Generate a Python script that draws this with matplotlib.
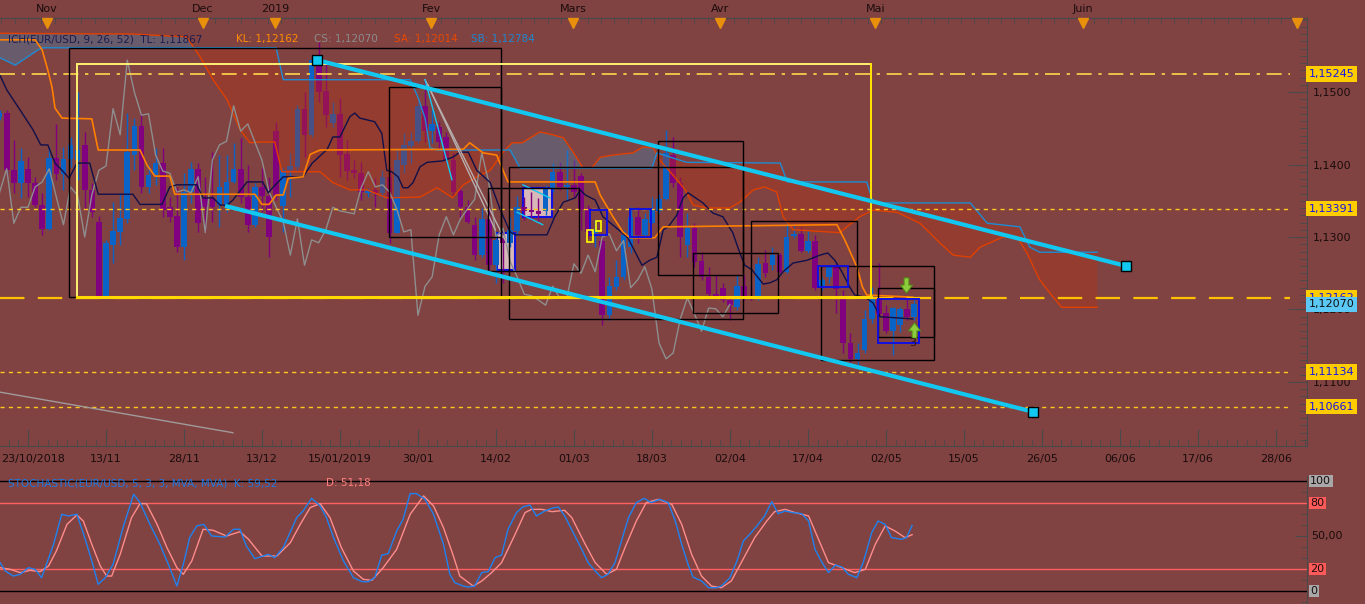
import matplotlib
matplotlib.use("Agg")
import matplotlib.pyplot as plt
import matplotlib.transforms as mtransforms
from matplotlib.patches import Rectangle
from matplotlib.path import Path
from matplotlib.ticker import MultipleLocator, FuncFormatter
import numpy as np

# ---------------- data ----------------
first_bar = -4   # bar index 0 = 23/10/2018
opens = [1.1466,1.1471,1.1392,1.1375,1.1394,1.1375,1.1344,1.1311,1.1409,1.1387,
         1.1408,1.1406,1.1427,1.1365,1.1321,1.1217,1.1289,1.1307,1.1325,1.1413,
         1.1453,1.1369,1.1385,1.1402,1.1341,1.1329,1.1286,1.1362,1.1394,1.1354,
         1.1354,1.1344,1.1344,1.1376,1.1394,1.1355,1.1317,1.1369,1.1357,1.1446,
         1.1343,1.1392,1.1397,1.1477,1.1441,1.1541,1.1501,1.1457,1.1470,1.1414,
         1.1392,1.1388,1.1361,1.1365,1.1361,1.1383,1.1306,1.1399,1.1426,1.1432,
         1.1481,1.1446,1.1452,1.1438,1.1406,1.1363,1.1341,1.1317,1.1275,1.1325,
         1.1261,1.1299,1.1292,1.1308,1.1341,1.1337,1.1336,1.1336,1.1368,1.1390,
         1.1369,1.1372,1.1384,1.1340,1.1306,1.1295,1.1192,1.1231,1.1245,1.1286,
         1.1328,1.1303,1.1319,1.1336,1.1352,1.1413,1.1375,1.1289,1.1312,1.1267,
         1.1245,1.1221,1.1230,1.1213,1.1203,1.1232,1.1217,1.1216,1.1264,1.1261,
         1.1275,1.1252,1.1301,1.1304,1.1281,1.1295,1.1230,1.1245,1.1259,1.1217,
         1.1154,1.1132,1.1144,1.1187,1.1216,1.1195,1.1170,1.1179,1.1201,1.1190]
highs = [1.1475,1.1475,1.1434,1.1423,1.1410,1.1383,1.1361,1.1424,1.1456,1.1424,
         1.1438,1.1500,1.1445,1.1375,1.1329,1.1296,1.1348,1.1361,1.1471,1.1464,
         1.1471,1.1399,1.1423,1.1423,1.1355,1.1369,1.1388,1.1403,1.1402,1.1383,
         1.1417,1.1413,1.1413,1.1430,1.1437,1.1399,1.1375,1.1395,1.1383,1.1459,
         1.1397,1.1416,1.1482,1.1500,1.1547,1.1569,1.1540,1.1486,1.1492,1.1434,
         1.1406,1.1403,1.1368,1.1381,1.1392,1.1397,1.1423,1.1443,1.1445,1.1486,
         1.1517,1.1475,1.1459,1.1445,1.1416,1.1369,1.1351,1.1328,1.1340,1.1340,
         1.1306,1.1310,1.1328,1.1357,1.1355,1.1362,1.1354,1.1372,1.1402,1.1403,
         1.1420,1.1406,1.1388,1.1344,1.1323,1.1306,1.1245,1.1268,1.1310,1.1341,
         1.1341,1.1333,1.1355,1.1359,1.1448,1.1438,1.1383,1.1333,1.1319,1.1279,
         1.1259,1.1248,1.1237,1.1217,1.1248,1.1248,1.1233,1.1272,1.1282,1.1286,
         1.1278,1.1319,1.1317,1.1314,1.1310,1.1303,1.1245,1.1261,1.1264,1.1227,
         1.1168,1.1154,1.1199,1.1231,1.1264,1.1206,1.1203,1.1203,1.1217,1.1213]
lows  = [1.1461,1.1383,1.1361,1.1354,1.1355,1.1341,1.1303,1.1310,1.1379,1.1365,
         1.1397,1.1379,1.1337,1.1328,1.1217,1.1217,1.1264,1.1289,1.1319,1.1392,
         1.1361,1.1361,1.1372,1.1328,1.1321,1.1279,1.1268,1.1347,1.1307,1.1307,
         1.1321,1.1314,1.1334,1.1375,1.1347,1.1307,1.1314,1.1334,1.1272,1.1351,
         1.1307,1.1355,1.1392,1.1410,1.1438,1.1486,1.1452,1.1452,1.1383,1.1379,
         1.1381,1.1351,1.1355,1.1341,1.1355,1.1292,1.1306,1.1388,1.1402,1.1430,
         1.1431,1.1430,1.1423,1.1402,1.1355,1.1328,1.1319,1.1268,1.1272,1.1255,
         1.1237,1.1237,1.1286,1.1303,1.1323,1.1323,1.1321,1.1330,1.1362,1.1365,
         1.1351,1.1355,1.1310,1.1299,1.1286,1.1179,1.1185,1.1227,1.1241,1.1278,
         1.1292,1.1300,1.1319,1.1333,1.1351,1.1369,1.1272,1.1272,1.1259,1.1241,
         1.1216,1.1217,1.1210,1.1185,1.1199,1.1213,1.1213,1.1213,1.1245,1.1255,
         1.1250,1.1250,1.1299,1.1279,1.1278,1.1227,1.1227,1.1237,1.1195,1.1140,
         1.1128,1.1123,1.1140,1.1181,1.1192,1.1168,1.1137,1.1169,1.1185,1.1185]
closes = [1.1471,1.1392,1.1375,1.1405,1.1375,1.1344,1.1311,1.1409,1.1387,1.1408,
          1.1427,1.1420,1.1365,1.1334,1.1217,1.1292,1.1308,1.1326,1.1417,1.1453,
          1.1369,1.1385,1.1402,1.1337,1.1328,1.1286,1.1362,1.1394,1.1319,1.1341,
          1.1341,1.1369,1.1376,1.1394,1.1355,1.1317,1.1369,1.1357,1.1300,1.1358,
          1.1392,1.1398,1.1477,1.1441,1.1544,1.1500,1.1468,1.1470,1.1413,1.1391,
          1.1388,1.1362,1.1365,1.1361,1.1383,1.1306,1.1406,1.1427,1.1432,1.1481,
          1.1446,1.1456,1.1431,1.1406,1.1362,1.1341,1.1321,1.1275,1.1325,1.1261,
          1.1296,1.1292,1.1310,1.1341,1.1336,1.1334,1.1332,1.1368,1.1390,1.1369,
          1.1372,1.1362,1.1339,1.1307,1.1310,1.1192,1.1232,1.1245,1.1303,1.1328,
          1.1303,1.1325,1.1339,1.1352,1.1416,1.1375,1.1300,1.1312,1.1266,1.1245,
          1.1221,1.1219,1.1213,1.1206,1.1232,1.1216,1.1216,1.1263,1.1250,1.1275,
          1.1252,1.1300,1.1304,1.1281,1.1295,1.1230,1.1241,1.1259,1.1228,1.1154,
          1.1132,1.1140,1.1187,1.1216,1.1194,1.1170,1.1202,1.1201,1.1190,1.1207]

# Ichimoku lines (bar position, price)
tenkan_x = [-3.95,-3.0,-1.1,0.7,1.8,2.8,3.8,4.8,5.8,6.9,8.7,9.9,14.8,15.8,18.9,20.0,21.0,23.8,
            24.7,26.1,27.1,28.1,28.9,30.9,33.1,33.9,34.6,36.0,38.8,40.1,42.2,43.0,44.0,45.4,
            46.1,46.8,48.9,49.9,50.6,51.3,52.2,52.9,53.6,54.3,55.3,56.3,58.5,59.9,60.9,62.1,
            63.3,65.2,66.6,68.0,68.7,73.2,74.3,75.5,77.2,77.9,78.6,80.0,81.1,82.8,84.6,86.6,
            87.7,88.7,89.6,90.3,91.5,92.4,93.1,95.2,96.6,98.0,99.4,100.4,101.1,102.1,103.7,
            104.7,105.6,106.5,107.9,109.9,111.7,112.8,113.8,114.8,115.9,116.6,118.1,119.2,
            120.2,124.8]
tenkan_p = [1.1523,1.1503,1.1475,1.1448,1.1427,1.1427,1.1402,1.1392,1.1381,1.1402,1.1402,1.1359,
            1.1359,1.1345,1.1345,1.1369,1.1372,1.1372,1.1354,1.1354,1.1344,1.1344,1.1351,1.1376,
            1.1376,1.1361,1.1369,1.1383,1.1383,1.1402,1.1421,1.1438,1.1438,1.1466,1.1471,1.1464,
            1.1459,1.1443,1.1392,1.1390,1.1383,1.1368,1.1368,1.1375,1.1397,1.1403,1.1405,1.1410,
            1.1417,1.1417,1.1392,1.1375,1.1338,1.1307,1.1303,1.1303,1.1328,1.1348,1.1354,1.1365,
            1.1358,1.1351,1.1328,1.1314,1.1299,1.1261,1.1268,1.1272,1.1310,1.1314,1.1330,1.1354,
            1.1361,1.1347,1.1333,1.1328,1.1306,1.1278,1.1261,1.1255,1.1235,1.1237,1.1241,1.1252,
            1.1264,1.1268,1.1275,1.1278,1.1268,1.1252,1.1231,1.1220,1.1217,1.1209,1.1190,1.1187]

kijun_x = [-3.95,1.0,2.0,2.8,3.4,3.8,4.8,9.0,9.9,15.8,16.8,17.9,20.0,20.7,32.0,33.0,34.0,35.0,
           36.0,36.7,38.8,39.8,41.2,61.4,62.3,64.2,66.1,67.0,67.7,80.0,80.7,82.5,83.9,84.9,
           88.4,89.6,114.1,115.2,116.9,117.7,118.3,124.8]
kijun_p = [1.1572,1.1572,1.1558,1.1530,1.1506,1.1478,1.1464,1.1463,1.1420,1.1420,1.1399,1.1384,
           1.1384,1.1359,1.1359,1.1345,1.1345,1.1358,1.1358,1.1381,1.1383,1.1414,1.1420,1.1421,
           1.1430,1.1416,1.1413,1.1392,1.1376,1.1376,1.1358,1.1328,1.1307,1.1299,1.1299,1.1314,
           1.1317,1.1296,1.1259,1.1231,1.1220,1.1217]

senkou_a_x = [-3.9,14.8,22.4,24.3,26.1,28.1,29.9,31.3,32.4,34.8,35.8,41.2,43.0,45.4,47.8,50.6,
              55.3,57.7,59.9,61.4,63.3,65.2,67.0,68.3,69.7,72.2,74.0,75.5,76.9,78.3,79.5,80.7,
              82.5,85.3,86.7,88.2,89.1,91.0,92.7,93.8,95.8,99.0,100.4,102.3,103.9,105.6,106.5,
              107.9,114.5,117.3,119.2,122.6,125.8,128.6,130.5,132.9,134.3,137.5,139.5,140.9,
              141.7,142.7,144.1,145.8,150.8]
senkou_a_p = [1.1581,1.1580,1.1576,1.1548,1.1517,1.1489,1.1448,1.1430,1.1431,1.1431,1.1390,1.1390,
              1.1375,1.1365,1.1365,1.1354,1.1355,1.1368,1.1354,1.1372,1.1383,1.1392,1.1417,1.1430,
              1.1430,1.1445,1.1441,1.1437,1.1417,1.1395,1.1395,1.1410,1.1413,1.1416,1.1424,1.1423,
              1.1406,1.1385,1.1365,1.1344,1.1340,1.1340,1.1348,1.1365,1.1369,1.1362,1.1328,1.1310,
              1.1306,1.1328,1.1337,1.1334,1.1319,1.1292,1.1275,1.1272,1.1286,1.1300,1.1300,1.1278,
              1.1261,1.1241,1.1223,1.1203,1.1203]
senkou_b_x = [-3.9,-1.8,1.4,2.1,35.0,36.0,53.9,55.0,56.0,56.7,57.7,68.0,69.4,88.0,88.7,92.9,
              106.1,107.1,118.3,119.2,132.9,135.3,139.9,141.3,142.7,150.8]
senkou_b_p = [1.1547,1.1537,1.1558,1.1561,1.1561,1.1517,1.1517,1.1493,1.1464,1.1423,1.1420,1.1420,
              1.1395,1.1395,1.1416,1.1403,1.1402,1.1376,1.1376,1.1347,1.1347,1.1319,1.1314,1.1286,
              1.1279,1.1279]
chikou_shift = 26

# Stochastic (5,3,3)
stoch_k_x = [-3.95,-3.2,-2.1,-1.1,0.05,1.0,1.9,2.6,3.6,4.75,5.7,6.9,8.0,9.0,9.9,10.9,12.0,13.4,
             14.9,15.8,17.2,18.6,19.8,21.0,21.9,22.8,23.8,24.8,25.9,27.8,29.0,29.9,30.8,32.0,
             33.9,34.8,36.0,37.9,38.8,40.0,41.2,42.1,43.1,44.5,45.9,47.1,48.0,48.9,49.9,50.8,
             52.0,52.9,53.9,54.8,56.0,57.2,58.6,59.5,60.2,61.4,62.1,63.0,64.0,64.9,65.9,66.8,
             67.7,68.9,69.8,70.8,71.7,72.9,73.9,74.8,75.7,76.9,78.1,79.0,80.0,80.9,81.8,82.8,
             83.7,84.7,85.8,86.9,87.9,89.1,90.3,91.3,92.2,93.1,93.8,95.0,96.0,97.1,97.8,99.0,
             100.0,100.9,101.8,102.8,103.9,104.9,105.8,106.8,107.9,109.1,110.1,111.0,112.0,
             112.9,113.9,114.8,115.7,116.9,117.8,119.0,119.9,120.9,121.8,123.2,123.9,124.7]
stoch_k_v = [25.8,18.2,13.6,15.2,21.2,19.7,12.1,24.2,42.4,69.7,68.2,69.7,48.5,27.3,6.1,12.1,24.2,
             57.6,87.9,80.3,60.6,42.4,24.2,4.5,24.2,48.5,59.1,60.6,50.0,49.1,56.1,56.1,40.9,29.4,
             33.3,30.3,39.4,66.7,72.7,84.2,77.3,66.7,48.5,27.3,12.1,8.5,8.5,12.1,32.7,33.9,54.5,
             65.2,88.5,88.5,83.3,69.7,42.4,15.2,7.6,4.5,3.6,4.5,16.7,17.6,30.3,32.7,56.1,71.2,
             76.4,78.2,68.2,72.7,75.2,76.4,68.2,53.0,37.9,25.8,18.2,12.1,15.2,25.8,45.5,66.7,
             80.3,84.2,80.3,83.3,80.3,63.6,42.4,24.2,12.7,9.1,3.0,3.0,4.5,12.1,27.3,45.5,51.5,
             59.1,68.2,81.2,70.3,72.7,71.2,70.3,63.6,37.9,25.8,16.7,23.6,21.8,15.2,12.1,25.8,
             53.0,63.6,60.6,48.5,47.0,48.5,59.5]
stoch_d_x = [-3.95,-2.5,-1.1,0.3,1.7,2.9,4.0,5.5,6.9,7.8,9.0,10.2,11.1,11.8,13.0,14.6,15.8,16.7,
             18.2,19.6,21.0,21.9,23.1,24.7,26.1,28.0,29.9,31.1,33.0,35.1,37.0,38.4,39.8,41.2,
             42.6,44.2,45.9,47.3,48.5,50.1,52.0,53.9,55.8,57.2,58.6,60.0,60.9,62.8,64.0,65.4,
             66.8,68.7,70.1,71.0,72.5,73.9,75.7,76.7,78.6,80.0,81.6,83.0,84.2,85.8,87.2,88.9,
             90.8,92.2,93.6,95.0,96.4,97.8,99.2,100.6,102.5,104.2,105.3,106.8,108.2,110.1,
             111.5,112.9,114.8,116.6,118.1,119.5,120.9,122.3,123.7,124.7]
stoch_d_v = [21.2,19.7,16.7,18.8,17.6,22.7,36.4,60.6,69.1,63.6,42.4,22.7,13.6,13.6,33.3,66.7,
             79.4,79.4,60.6,39.4,21.2,15.2,27.3,56.1,55.2,50.0,53.9,47.0,31.8,31.8,43.9,60.6,
             75.8,79.4,66.7,39.4,18.2,10.6,9.7,21.2,37.9,69.7,86.4,77.3,57.6,31.8,13.6,4.5,
             9.1,16.7,25.8,51.5,71.2,74.2,74.2,72.1,73.3,66.7,42.4,25.8,15.2,19.7,39.4,63.6,
             80.3,83.3,78.8,60.6,33.3,13.6,4.5,3.0,9.1,25.8,48.5,63.6,72.1,74.2,71.2,68.2,
             47.0,25.8,21.2,16.7,19.7,42.4,59.1,54.5,48.5,51.2]

# horizontal levels
levels = [1.15245, 1.13391, 1.12162, 1.11134, 1.10661]
level_labels = ["1,15245", "1,13391", "1,12162", "1,11134", "1,10661"]
last_price = 1.12070

# drawn objects: channel, boxes (bar0, bar1, price_hi, price_lo)
channel_top = ([40.8, 154.9], [1.1544, 1.1260])
channel_bot = ([27.8, 141.7], [1.1343, 1.1059])
old_trend = ([-3.95, 28.9], [1.1086, 1.1030])
black_boxes = [(5.8, 66.7, 1.1561, 1.1217), (50.9, 66.7, 1.1507, 1.1300),
               (64.9, 77.7, 1.1368, 1.1253), (67.8, 100.8, 1.1397, 1.1187),
               (88.9, 100.8, 1.1432, 1.1248), (93.8, 105.8, 1.1278, 1.1195),
               (102.0, 116.9, 1.1322, 1.1217), (111.8, 127.8, 1.1260, 1.1130),
               (119.9, 127.8, 1.1230, 1.1162)]
yellow_box = (6.9, 118.9, 1.1539, 1.1217)
blue_boxes = [(79.3, 81.7, 1.1337, 1.1303), (84.9, 87.9, 1.1339, 1.1300),
              (111.4, 115.7, 1.1260, 1.1231), (119.9, 125.7, 1.1215, 1.1154)]
pink_boxes = [(69.8, 73.9, 1.1368, 1.1328), (66.1, 68.7, 1.1306, 1.1255)]
small_yellow = [(78.8, 79.7, 1.1310, 1.1293), (80.1, 80.8, 1.1322, 1.1308)]
fan_cyan = [([56.0, 59.8], [1.1517, 1.1379]), ([69.8, 73.6], [1.1372, 1.1354]),
            ([69.0, 72.6], [1.1334, 1.1317])]
fan_gray = [([56.0, 68.0], [1.1517, 1.1282]), ([56.4, 65.9], [1.1510, 1.1310])]

date_x = list(range(0, 177, 11))
date_labels = ["23/10/2018", "13/11", "28/11", "13/12", "15/01/2019", "30/01", "14/02", "01/03",
               "18/03", "02/04", "17/04", "02/05", "15/05", "26/05", "06/06", "17/06", "28/06"]
month_x = [2.7, 24.7, 34.9, 56.9, 76.9, 97.6, 119.5, 148.8]
month_labels = ["Nov", "Dec", "2019", "Fev", "Mars", "Avr", "Mai", "Juin"]
flag_x = month_x + [179.0]

# ---------------- style ----------------
BG = '#814242'
TXT = '#1a0c0c'
AXC = '#4a4a4a'
UP = '#0a64c8'
DOWN = '#80007f'
CYAN = '#12c8f0'

W, H = 1365, 604
fig = plt.figure(figsize=(W / 100, H / 100), dpi=100)
fig.patch.set_facecolor(BG)


def fig_box(x0, y0, x1, y1):
    return [x0 / W, 1 - y1 / H, (x1 - x0) / W, (y1 - y0) / H]


ax = fig.add_axes(fig_box(0, 18, 1307, 446))
ax2 = fig.add_axes(fig_box(0, 476, 1307, 604))
for a in (ax, ax2):
    a.set_facecolor(BG)
    a.set_xlim(-3.95, 180.4)
ax.set_ylim(1.10117, 1.16021)
ax2.set_ylim(-11.8, 104.5)

comma = FuncFormatter(lambda v, p: ("%.4f" % v).replace('.', ','))

# ---------------- main panel ----------------
bars = np.arange(len(opens)) + first_bar
o, h, l, c = (np.array(v) for v in (opens, highs, lows, closes))
cols = np.where(c >= o, UP, DOWN)

# pink boxes behind candles
for x0, x1, p1, p0 in pink_boxes:
    ax.add_patch(Rectangle((x0, p0), x1 - x0, p1 - p0, fc='#d8b8b8', ec='#1010e0', lw=1.5, zorder=2))

ax.vlines(bars, l, h, colors=cols, lw=1, zorder=3)
ax.bar(bars, np.maximum(np.abs(c - o), 0.00012), bottom=np.minimum(o, c), width=0.8,
       color=cols, lw=0, zorder=3)

# cloud
grid = np.linspace(-3.95, 150.8, 2000)
sa = np.interp(grid, senkou_a_x, senkou_a_p)
sb = np.interp(grid, senkou_b_x, senkou_b_p)
ax.fill_between(grid, sa, sb, where=sa >= sb, interpolate=True, color='#3a8cc0', alpha=0.34, lw=0, zorder=4)
ax.fill_between(grid, sa, sb, where=sa < sb, interpolate=True, color='#b83211', alpha=0.36, lw=0, zorder=4)
ax.plot(senkou_a_x, senkou_a_p, color='#e04000', lw=1, zorder=5)
ax.plot(senkou_b_x, senkou_b_p, color='#1e8cd2', lw=1, zorder=5)
ax.plot(bars - chikou_shift, c, color='#8e8e8e', lw=1, zorder=5)
ax.plot(tenkan_x, tenkan_p, color='#10104a', lw=1, zorder=6)
ax.plot(kijun_x, kijun_p, color='#ff8000', lw=1.2, zorder=6)

# levels
lstyles = [(0, (9, 4, 2, 4)), (0, (3, 3)), (0, (11, 6)), (0, (3, 3)), (0, (3, 3))]
lcolors = ['#ffd84a', '#ffc81e', '#ffc000', '#ffc81e', '#ffc81e']
lwidths = [1.2, 1, 1.6, 1, 1]
for lev, ls, lc, lw in zip(levels, lstyles, lcolors, lwidths):
    ax.plot([-3.95, 178], [lev, lev], color=lc, ls=ls, lw=lw, zorder=6)

# boxes
for x0, x1, p1, p0 in black_boxes:
    ax.add_patch(Rectangle((x0, p0), x1 - x0, p1 - p0, fill=False, ec='black', lw=1, zorder=7))
x0, x1, p1, p0 = yellow_box
ax.add_patch(Rectangle((x0, p0), x1 - x0, p1 - p0, fill=False, ec='#fff070', lw=1.4, zorder=7))
ax.plot([x1, x1], [p0, p1], color='#ffe000', lw=1.4, zorder=7)
ax.plot([x0, x1], [p0, p0], color='#ffd800', lw=2.2, zorder=7)
for x0, x1, p1, p0 in blue_boxes:
    ax.add_patch(Rectangle((x0, p0), x1 - x0, p1 - p0, fill=False, ec='#1010e0', lw=1.4, zorder=7))
for x0, x1, p1, p0 in small_yellow:
    ax.add_patch(Rectangle((x0, p0), x1 - x0, p1 - p0, fill=False, ec='#ffff00', lw=1.2, zorder=7))

for xs, ps in fan_gray:
    ax.plot(xs, ps, color='#b8b0b0', lw=1, zorder=6)
for xs, ps in fan_cyan:
    ax.plot(xs, ps, color=CYAN, lw=1, zorder=6)

ax.plot(*old_trend, color='#a09a9a', lw=1, zorder=6)
ax.plot(*channel_top, color=CYAN, lw=3, solid_capstyle='butt', zorder=8)
ax.plot(*channel_bot, color=CYAN, lw=3, solid_capstyle='butt', zorder=8)
ax.plot([channel_top[0][0], channel_top[0][1], channel_bot[0][1]],
        [channel_top[1][0], channel_top[1][1], channel_bot[1][1]],
        ls='none', marker='s', ms=7, mfc=CYAN, mec='black', mew=1, zorder=9)

# signal arrows
av = [(-0.32, 1), (0.32, 1), (0.32, 0.05), (0.8, 0.05), (0, -1), (-0.8, 0.05), (-0.32, 0.05), (-0.32, 1)]
codes = [Path.MOVETO] + [Path.LINETO] * 6 + [Path.CLOSEPOLY]
down_arrow = Path(av, codes)
up_arrow = Path([(x, -y) for x, y in av], codes)
ax.scatter([123.9], [1.1234], marker=down_arrow, s=120, c='#8ccb3c', edgecolors='#4e8e14', lw=0.7, zorder=12)
ax.scatter([124.9], [1.1172], marker=up_arrow, s=120, c='#8ccb3c', edgecolors='#4e8e14', lw=0.7, zorder=12)
ax.text(124.8, 1.1154, "3", fontsize=8, color='#2a1414', ha='center', va='center', zorder=12)

# axes styling
ax.spines['left'].set_visible(False)
for s in ('top', 'right', 'bottom'):
    ax.spines[s].set_color(AXC)
ax.set_xticks(date_x, labels=date_labels)
ax.xaxis.set_minor_locator(MultipleLocator(11 / 8))
ax.tick_params(axis='x', which='major', direction='in', length=12, color=AXC,
               labelsize=8, labelcolor=TXT, pad=6)
ax.tick_params(axis='x', which='minor', direction='in', length=5, color=AXC)
first = ax.get_xticklabels()[0]
first.set_horizontalalignment('left')
first.set_transform(first.get_transform() + mtransforms.ScaledTranslation(-0.27, 0, fig.dpi_scale_trans))
ax.yaxis.tick_right()
ax.set_yticks([1.11, 1.12, 1.13, 1.14, 1.15])
ax.yaxis.set_major_formatter(comma)
ax.yaxis.set_minor_locator(MultipleLocator(0.001))
ax.tick_params(axis='y', which='major', direction='in', length=14, color=AXC,
               labelsize=8, labelcolor=TXT, pad=4)
ax.tick_params(axis='y', which='minor', direction='in', length=5, color=AXC)

top = ax.secondary_xaxis('top')
top.set_xticks(month_x, labels=month_labels)
top.xaxis.set_minor_locator(MultipleLocator(1.88))
top.tick_params(which='major', length=0, pad=3, labelsize=8, labelcolor=TXT)
top.tick_params(which='minor', direction='in', length=4, color=AXC)
top.spines['top'].set_color(AXC)

flag_tr = mtransforms.blended_transform_factory(ax.transData, ax.transAxes)
ax.plot(flag_x, [0.988] * len(flag_x), ls='none', marker='v', ms=7, color='#e8900c',
        transform=flag_tr, clip_on=False, zorder=10)

# right-hand price boxes
rtr = mtransforms.blended_transform_factory(ax.transAxes, ax.transData)
for lev, lab in zip(levels, level_labels):
    ax.text(1.0012, lev, lab, transform=rtr, ha='left', va='center', fontsize=8, color='#1414e6',
            bbox=dict(boxstyle='square,pad=0.25', fc='#ffcc00', ec='none'), clip_on=False, zorder=20)
ax.text(1.0012, last_price, "1,12070", transform=rtr, ha='left', va='center', fontsize=8,
        color='#101010', bbox=dict(boxstyle='square,pad=0.25', fc='#5cc8f5', ec='none'),
        clip_on=False, zorder=21)

# indicator headline
ty = 1 - 39 / H
fig.text(8 / W, ty, "ICH(EUR/USD, 9, 26, 52)  TL: 1,11867", color='#1c1c50', fontsize=7.5, va='center')
fig.text(236 / W, ty, "KL: 1,12162", color='#ff8c00', fontsize=7.5, va='center')
fig.text(314 / W, ty, "CS: 1,12070", color='#8c8c8c', fontsize=7.5, va='center')
fig.text(394 / W, ty, "SA: 1,12014", color='#e84800', fontsize=7.5, va='center')
fig.text(471 / W, ty, "SB: 1,12784", color='#1e88d0', fontsize=7.5, va='center')

# ---------------- stochastic panel ----------------
ax2.axhline(100, color='black', lw=1, zorder=2)
ax2.axhline(0, color='black', lw=1, zorder=2)
ax2.axhline(80, color='#ff6060', lw=1, zorder=2)
ax2.axhline(20, color='#ff6060', lw=1, zorder=2)
ax2.plot(stoch_d_x, stoch_d_v, color='#ff8c8c', lw=1, zorder=3)
ax2.plot(stoch_k_x, stoch_k_v, color='#1e82f0', lw=1, zorder=4)
for s in ('left', 'top', 'bottom'):
    ax2.spines[s].set_visible(False)
ax2.spines['right'].set_color(AXC)
ax2.set_xticks([])
ax2.yaxis.tick_right()
ax2.set_yticks([50], labels=[""])
ax2.yaxis.set_minor_locator(MultipleLocator(10))
ax2.tick_params(axis='y', which='major', direction='in', length=9, color=AXC)
ax2.tick_params(axis='y', which='minor', direction='in', length=4, color=AXC)

str2 = mtransforms.blended_transform_factory(ax2.transAxes, ax2.transData)
for val, lab, fc in [(100, "100", '#a8a8a8'), (80, "80", '#ff5a5a'), (20, "20", '#ff5a5a'), (0, "0", '#a8a8a8')]:
    ax2.text(1.0025, val, lab, transform=str2, ha='left', va='center', fontsize=8, color=TXT,
             bbox=dict(boxstyle='square,pad=0.12', fc=fc, ec='none'), clip_on=False, zorder=20)
ax2.text(1.003, 50, "50,00", transform=str2, ha='left', va='center', fontsize=8, color=TXT, clip_on=False)

sy = 1 - 483 / H
fig.text(8 / W, sy, "STOCHASTIC(EUR/USD, 5, 3, 3, MVA, MVA)  K: 59,52", color='#1e78e0', fontsize=7.5, va='center')
fig.text(326 / W, sy, "D: 51,18", color='#ff8080', fontsize=7.5, va='center')

fig.savefig("out.png", dpi=100, facecolor=BG)
